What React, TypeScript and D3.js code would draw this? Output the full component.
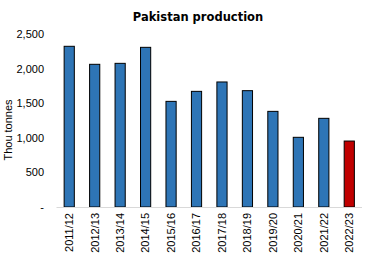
import React from "react";
import * as d3 from "d3";

const categories = ["2011/12","2012/13","2013/14","2014/15","2015/16","2016/17","2017/18","2018/19","2019/20","2020/21","2021/22","2022/23"];
const values = [2329, 2068, 2082, 2314, 1531, 1676, 1812, 1686, 1386, 1010, 1285, 956];
const yTicks = [0, 500, 1000, 1500, 2000, 2500];

export default function App() {
  const W = 369, H = 263;
  const left = 56.5, right = 362, top = 34.5, bottom = 207;
  const x = d3.scaleBand().domain(categories).range([left, right]).paddingInner(0.6).paddingOuter(0.3);
  const y = d3.scaleLinear().domain([0, 2500]).range([bottom, top]);
  const fmt = d3.format(",");
  return (
    <svg width={W} height={H} style={{ position: "absolute", left: 0, top: 0, background: "#fff" }} fontFamily="Liberation Sans, Arial, sans-serif">
      <text x={198} y={21} textAnchor="middle" fontSize={11.5} fontWeight={900} fontFamily="DejaVu Sans, Arial Black, sans-serif">Pakistan production</text>
      {yTicks.map(t => (
        <text key={t} x={44} y={y(t)} dy="0.35em" textAnchor="end" fontSize={11} fill="#000">{t === 0 ? "-" : fmt(t)}</text>
      ))}
      <text transform={`translate(8,130) rotate(-90)`} textAnchor="middle" fontSize={11} dy="0.35em">Thou tonnes</text>
      {categories.map((c, i) => (
        <rect key={c} x={x(c)} y={y(values[i])} width={x.bandwidth()} height={bottom - y(values[i])}
          fill={i === categories.length - 1 ? "#C00000" : "#2E75B6"} stroke="#000" strokeWidth={1} />
      ))}
      <line x1={left} x2={right} y1={bottom + 0.5} y2={bottom + 0.5} stroke="#D9D9D9" strokeWidth={1} />
      {categories.map(c => (
        <text key={c} transform={`translate(${(x(c) as number) + x.bandwidth() / 2},${bottom + 6}) rotate(-90)`} textAnchor="end" dy="0.35em" fontSize={11}>{c}</text>
      ))}
    </svg>
  );
}
